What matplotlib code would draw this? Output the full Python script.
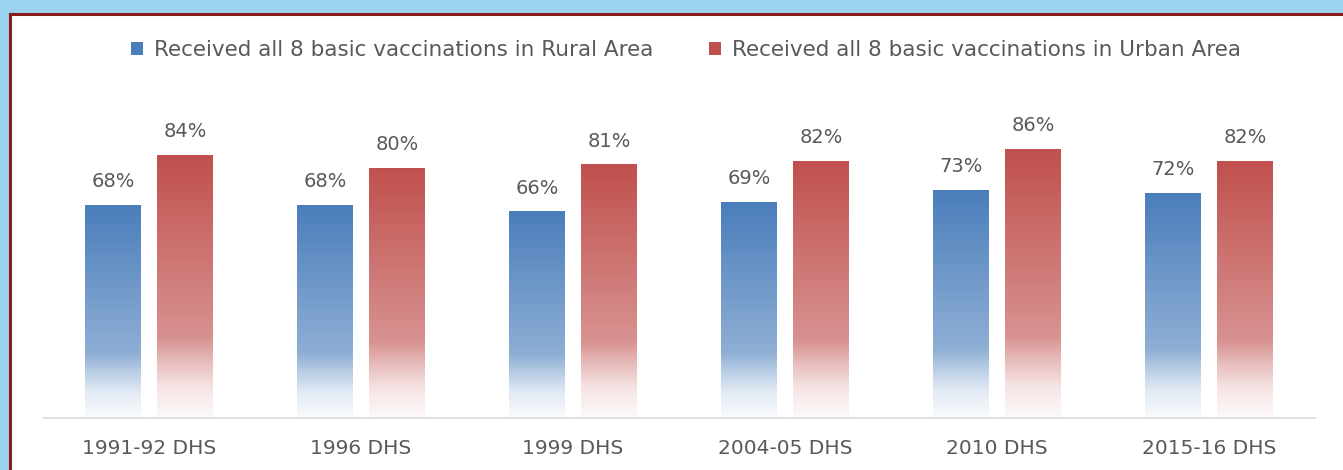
import numpy as np
import matplotlib.pyplot as plt
from matplotlib.patches import Patch, Rectangle
from matplotlib.colors import to_rgb

SURVEYS = ["1991-92 DHS", "1996 DHS", "1999 DHS", "2004-05 DHS", "2010 DHS", "2015-16 DHS"]
RURAL = [68, 68, 66, 69, 73, 72]
URBAN = [84, 80, 81, 82, 86, 82]
LABELS = ["Received all 8 basic vaccinations in Rural Area",
          "Received all 8 basic vaccinations in Urban Area"]

BLUE = "#4a7ebb"
RED = "#c0504d"
TEXT = "#595959"
SKY = "#9ad2ef"
FRAME = "#8b1a1a"

plt.rcParams["font.family"] = ["DejaVu Sans"]


def gradient_img(color):
    # vertical fade: solid on top, lighter, then almost white at the bottom
    c = np.array(to_rgb(color))
    w = np.ones(3)
    stops = [(0.0, 0.0), (0.7, 0.38), (0.78, 0.6), (0.88, 0.84), (1.0, 0.97)]
    ts = np.linspace(0, 1, 256)
    mix = np.interp(ts, [s[0] for s in stops], [s[1] for s in stops])
    rows = c[None, :] * (1 - mix[:, None]) + w[None, :] * mix[:, None]
    return rows[:, None, :]


def fill_bars(ax, bars, color):
    img = gradient_img(color)
    for b in bars:
        x0, y0 = b.get_x(), b.get_y()
        x1, y1 = x0 + b.get_width(), y0 + b.get_height()
        im = ax.imshow(img, extent=(x0, x1, y0, y1), aspect="auto",
                       origin="upper", zorder=2, interpolation="bilinear")
        im.set_clip_path(b)
        b.set_facecolor("none")


fig = plt.figure(figsize=(13.43, 4.70), dpi=100)
fig.patch.set_facecolor(SKY)
W, H = 1343, 470
fig.patches.append(Rectangle((11 / W, 0), 1, 1 - 14 / H, transform=fig.transFigure,
                             facecolor="white", edgecolor="none", zorder=-5))
fig.add_artist(plt.Line2D([10 / W, 10 / W], [0, 1 - 13.5 / H], color=FRAME, lw=2.2,
                          transform=fig.transFigure, zorder=-4))
fig.add_artist(plt.Line2D([10 / W, 1], [1 - 13.5 / H, 1 - 13.5 / H], color=FRAME, lw=2.2,
                          transform=fig.transFigure, zorder=-4))

ax = fig.add_axes([43 / W, 52 / H, (1315 - 43) / W, (418 - 105) / H])
ax.set_facecolor("none")

x = np.arange(len(SURVEYS))
width = 0.264
off = 0.17
b1 = ax.bar(x - off, RURAL, width, color=BLUE, zorder=2)
b2 = ax.bar(x + off, URBAN, width, color=RED, zorder=2)
fill_bars(ax, b1, BLUE)
fill_bars(ax, b2, RED)

for bars, vals in ((b1, RURAL), (b2, URBAN)):
    for b, v in zip(bars, vals):
        ax.annotate(f"{v}%", (b.get_x() + b.get_width() / 2, v),
                    xytext=(0, 10), textcoords="offset points",
                    ha="center", va="bottom", fontsize=14, color=TEXT)

ax.set_xlim(-0.5, len(SURVEYS) - 0.5)
ax.set_ylim(0, 100)
ax.set_xticks(x)
ax.set_xticklabels(SURVEYS, fontsize=14.5, color=TEXT)
ax.tick_params(axis="x", length=0, pad=15)
ax.set_yticks([])
for s in ["top", "right", "left"]:
    ax.spines[s].set_visible(False)
ax.spines["bottom"].set_color("#d9d9d9")
ax.spines["bottom"].set_linewidth(1.2)

handles = [Patch(facecolor=BLUE), Patch(facecolor=RED)]
fig.legend(handles, LABELS, loc="center", bbox_to_anchor=(0.511, 1 - 50 / H),
           ncol=2, frameon=False, fontsize=15.5, labelcolor=TEXT,
           handlelength=0.55, handleheight=0.55, handletextpad=0.5, columnspacing=2.6)

fig.savefig("out.png", dpi=100, facecolor=fig.get_facecolor())
